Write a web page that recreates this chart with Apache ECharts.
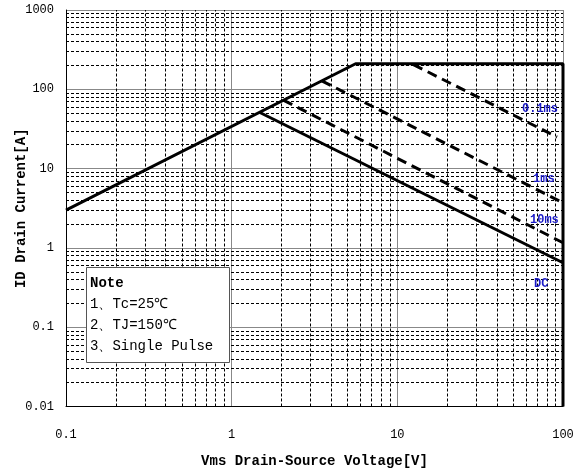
<!DOCTYPE html>
<html>
<head>
<meta charset="utf-8">
<script src="https://cdn.jsdelivr.net/npm/echarts@6/dist/echarts.min.js"></script>
<style>
  html, body { margin: 0; padding: 0; background: #fff; }
  #chart { width: 582px; height: 476px; }
</style>
</head>
<body>
<div id="chart"></div>
<script>
// tick labels
const xTicks = ['0.1', '1', '10', '100']
const yTicks = ['0.01', '0.1', '1', '10', '100', '1000']
// safe operating area boundaries [Vds, Id]
const limitLine = [[0.1, 3.0], [5.6, 210], [100, 210], [100, 0.01]]
const dcLine = [[1.48, 51], [100, 0.65]]
const ms10Line = [[2.05, 73], [100, 1.16]]
const ms1Line = [[3.5, 128], [100, 3.7]]
const ms01Line = [[12.5, 205], [92, 25]]

const font = 'Liberation Mono'

// minor grid values 2..9 within each decade
function minors(from, decades) {
  const out = []
  for (let d = 0; d < decades; d++) {
    const base = from * Math.pow(10, d)
    for (let m = 2; m <= 9; m++) out.push(+(base * m).toPrecision(3))
  }
  return out
}
const xMinor = minors(0.1, 3)
const yMinor = minors(0.01, 5)

function fmt(v) {
  return String(+v.toPrecision(3))
}

const chart = echarts.init(document.getElementById('chart'))
const dashed = { color: '#000', width: 3, type: [10, 6] }
const solid = { color: '#000', width: 3 }
const blue = '#1a1ac8'

chart.setOption({
  animation: false,
  grid: { left: 66, top: 10, right: 19, bottom: 69.5, containLabel: false, outerBoundsMode: 'none' },
  xAxis: {
    type: 'log', logBase: 10, min: 0.1, max: 100,
    name: 'Vms Drain-Source Voltage[V]',
    nameLocation: 'middle', nameGap: 48, nameMoveOverlap: false,
    nameTextStyle: { fontFamily: font, fontSize: 14, fontWeight: 'bold', color: '#000' },
    axisLine: { show: true, lineStyle: { color: '#000', width: 1 } },
    axisTick: { show: false },
    axisLabel: {
      margin: 22, fontFamily: font, fontSize: 12, color: '#000',
      formatter: v => xTicks.find(t => +t === +fmt(v)) || ''
    },
    splitLine: { show: true, lineStyle: { color: '#888', width: 1 } }
  },
  yAxis: {
    type: 'log', logBase: 10, min: 0.01, max: 1000,
    name: 'ID Drain Current[A]',
    nameLocation: 'middle', nameGap: 38, nameMoveOverlap: false,
    nameTextStyle: { fontFamily: font, fontSize: 14, fontWeight: 'bold', color: '#000' },
    axisLine: { show: true, lineStyle: { color: '#000', width: 1 } },
    axisTick: { show: false },
    axisLabel: {
      margin: 12, fontFamily: font, fontSize: 12, color: '#000',
      formatter: v => yTicks.find(t => +t === +fmt(v)) || ''
    },
    splitLine: { show: true, lineStyle: { color: '#888', width: 1 } }
  },
  series: [
    {
      type: 'line', data: [], silent: true, z: 1,
      markLine: {
        silent: true, symbol: ['none', 'none'], label: { show: false },
        lineStyle: { color: '#000', width: 1, type: [3, 2] },
        data: xMinor.map(v => ({ xAxis: v })).concat(yMinor.map(v => ({ yAxis: v })))
      }
    },
    { type: 'line', data: limitLine, symbol: 'none', lineStyle: solid, z: 5 },
    { type: 'line', data: dcLine, symbol: 'none', lineStyle: solid, z: 5 },
    { type: 'line', data: ms10Line, symbol: 'none', lineStyle: dashed, z: 5 },
    { type: 'line', data: ms1Line, symbol: 'none', lineStyle: dashed, z: 5 },
    { type: 'line', data: ms01Line, symbol: 'none', lineStyle: dashed, z: 5 }
  ],
  graphic: [
    { type: 'text', left: 522, top: 103, z: 100, style: { text: '0.1ms', fill: blue, font: 'bold 12px ' + font } },
    { type: 'text', left: 533, top: 173, z: 100, style: { text: '1ms', fill: blue, font: 'bold 12px ' + font } },
    { type: 'text', left: 530, top: 214, z: 100, style: { text: '10ms', fill: blue, font: 'bold 12px ' + font } },
    { type: 'text', left: 534, top: 278, z: 100, style: { text: 'DC', fill: blue, font: 'bold 12px ' + font } },
    { type: 'rect', left: 86, top: 267, z: 100, shape: { width: 143, height: 95 }, style: { fill: '#fff', stroke: '#555', lineWidth: 1 } },
    { type: 'text', left: 90, top: 276, z: 101, style: { text: 'Note', fill: '#000', font: 'bold 14px ' + font } },
    { type: 'text', left: 90, top: 297, z: 101, style: { text: '1、Tc=25℃', fill: '#000', font: '14px ' + font } },
    { type: 'text', left: 90, top: 318, z: 101, style: { text: '2、TJ=150℃', fill: '#000', font: '14px ' + font } },
    { type: 'text', left: 90, top: 339, z: 101, style: { text: '3、Single Pulse', fill: '#000', font: '14px ' + font } }
  ]
})
</script>
</body>
</html>
